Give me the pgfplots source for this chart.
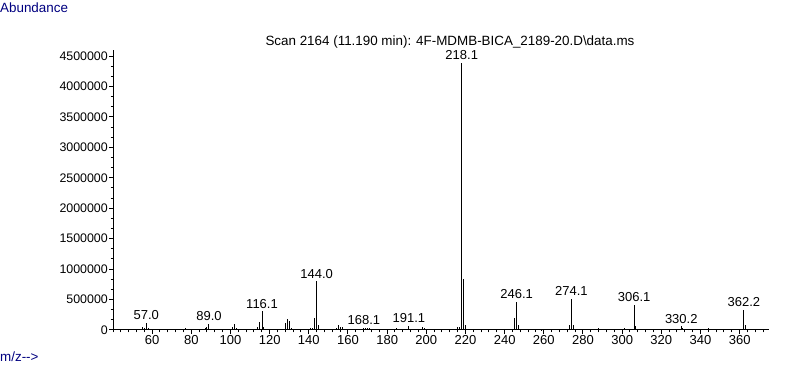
\documentclass[border=0pt]{standalone}
\usepackage{fontspec}
\setmainfont{Liberation Sans}
\usepackage{pgfplots}
\usepackage{pgfplotstable}
\pgfplotsset{compat=1.18}
\definecolor{navy}{RGB}{0,0,128}
\newcommand\f{\fontsize{12.4bp}{14bp}\selectfont}
\newcommand\fl{\fontsize{13bp}{15bp}\selectfont}
\newcommand\ft{\fontsize{13.4bp}{15bp}\selectfont}
\pgfplotstableread{
x y
51 15000
53 10000
55 45000
56 30000
58 25000
59 15000
62 15000
63 10000
67 10000
69 15000
71 10000
73 12000
75 20000
76 15000
77 30000
78 15000
86 15000
87 35000
88 45000
90 20000
91 15000
101 55000
102 100000
103 30000
113 15000
114 45000
115 130000
117 45000
118 15000
127 15000
128 110000
129 180000
130 150000
131 25000
141 25000
142 25000
143 200000
145 80000
146 15000
154 25000
155 80000
156 45000
157 45000
158 15000
167 20000
169 25000
170 30000
171 25000
173 15000
177 10000
184 20000
185 30000
186 15000
190 20000
192 20000
197 20000
198 50000
199 30000
200 15000
207 15000
214 15000
216 55000
217 50000
219 835000
220 80000
221 15000
228 10000
233 15000
244 20000
245 200000
247 80000
248 15000
253 15000
254 12000
259 8000
271 15000
272 20000
273 90000
275 80000
276 20000
288 25000
289 10000
301 25000
303 20000
305 15000
307 60000
308 15000
315 20000
329 15000
331 40000
332 10000
344 25000
345 20000
347 15000
363 80000
364 20000
}\minor
\pgfplotstableread{
x y l
57.0 120000 57.0
89.0 100000 89.0
116.1 310000 116.1
144.0 800000 144.0
168.1 35000 168.1
191.1 65000 191.1
218.1 4390000 218.1
246.1 460000 246.1
274.1 510000 274.1
306.1 410000 306.1
330.2 60000 330.2
362.2 330000 362.2
}\major
\begin{document}
\begin{tikzpicture}
\path[use as bounding box] (0,0) rectangle (787bp,367bp);
\node[anchor=west, text=navy, font=\ft, inner sep=0] at (0bp,359bp) {Abundance};
\node[anchor=west, text=navy, font=\ft, inner sep=0] at (0bp,10bp) {m/z-{}-\textgreater};
\node[font=\ft, inner sep=0] at (450bp,325bp) {Scan 2164 (11.190 min): 4F-MDMB-BICA\_2189-20.D\textbackslash data.ms};
\begin{axis}[at={(113bp,37bp)}, anchor=south west, scale only axis,
  width=656bp, height=280bp,
  xmin=40, xmax=375, ymin=0, ymax=4600000,
  axis x line*=bottom, axis y line*=left,
  axis line style={-, black, line width=1bp},
  xtick pos=bottom, ytick pos=left,
  tick align=outside,
  major tick length=4bp, minor tick length=2.5bp,
  tick style={black, line width=1bp},
  xtick={60,80,...,360},
  minor xtick={40,44,...,372},
  ytick={0,500000,...,4500000},
  minor y tick num=2,
  scaled y ticks=false,
  /pgf/number format/assume math mode=true,
  y tick label style={font=\f, /pgf/number format/fixed, /pgf/number format/precision=0, /pgf/number format/1000 sep={}, inner sep=1bp},
  x tick label style={font=\fl, inner sep=1.5bp},
  clip=false,
]
\addplot[ycomb, black, line width=1bp, mark=none] table {\minor};
\addplot[ycomb, black, line width=1bp, mark=none,
  nodes near coords, point meta=explicit symbolic,
  nodes near coords style={font=\fl, anchor=south, inner sep=1bp, yshift=1.5bp, text=black}]
  table[meta=l] {\major};
\end{axis}
\end{tikzpicture}
\end{document}
